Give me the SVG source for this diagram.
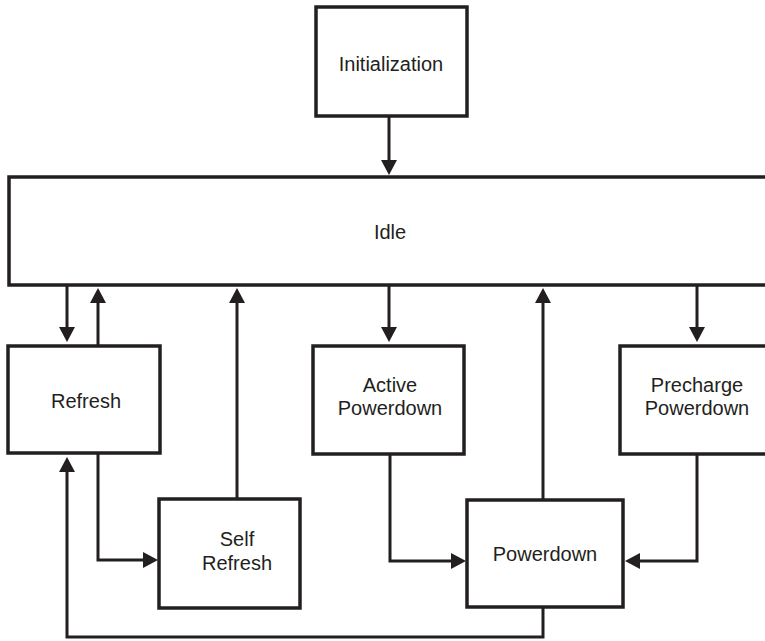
<svg xmlns="http://www.w3.org/2000/svg" width="765" height="641" viewBox="0 0 765 641">
<style>
.box{fill:#fff;stroke:#231f20;stroke-width:3.5}
.lbl{font-family:"Liberation Sans",Arial,sans-serif;font-size:20px;fill:#231f20;text-anchor:middle}
.c{fill:none;stroke:#231f20;stroke-width:3;marker-end:url(#ah)}
</style>
<defs>
<marker id="ah" viewBox="0 0 15 16" markerWidth="15" markerHeight="16" refX="0" refY="8" orient="auto" markerUnits="userSpaceOnUse">
<path d="M0,0 L15,8 L0,16 z" fill="#231f20"/>
</marker>
</defs>
<rect width="765" height="641" fill="#fff"/>
<g id="connectors">
<path class="c" d="M389,116 V160"/>
<path class="c" d="M67,285 V327"/>
<path class="c" d="M98,346 V303"/>
<path class="c" d="M237,499 V303"/>
<path class="c" d="M389,285 V327"/>
<path class="c" d="M543,500 V303"/>
<path class="c" d="M697,285 V327"/>
<path class="c" d="M98,453 V560 H143"/>
<path class="c" d="M390,454 V561 H451"/>
<path class="c" d="M697,454 V561 H640"/>
<path class="c" d="M543,607 V637 H67 V472"/>
</g>
<g id="initialization">
<rect class="box" x="316" y="7" width="151" height="109"/>
<text class="lbl" x="391" y="71">Initialization</text>
</g>
<g id="idle">
<rect class="box" x="9" y="177" width="800" height="108"/>
<text class="lbl" x="390" y="239">Idle</text>
</g>
<g id="refresh">
<rect class="box" x="8" y="346" width="152" height="107"/>
<text class="lbl" x="86" y="408">Refresh</text>
</g>
<g id="self-refresh">
<rect class="box" x="159" y="499" width="141" height="109"/>
<text class="lbl" x="237" y="546">Self</text>
<text class="lbl" x="237" y="570">Refresh</text>
</g>
<g id="active-powerdown">
<rect class="box" x="313" y="346" width="151" height="108"/>
<text class="lbl" x="390" y="392">Active</text>
<text class="lbl" x="390" y="415">Powerdown</text>
</g>
<g id="powerdown">
<rect class="box" x="467" y="500" width="156" height="107"/>
<text class="lbl" x="545" y="561">Powerdown</text>
</g>
<g id="precharge-powerdown">
<rect class="box" x="620" y="346" width="154" height="108"/>
<text class="lbl" x="697" y="392">Precharge</text>
<text class="lbl" x="697" y="415">Powerdown</text>
</g>
</svg>
